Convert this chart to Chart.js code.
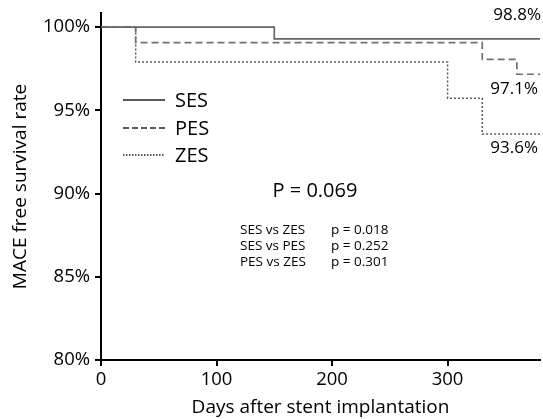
<!DOCTYPE html>
<html>
<head>
<meta charset="utf-8">
<script src="https://cdn.jsdelivr.net/npm/chart.js@4.4.1/dist/chart.umd.min.js"></script>
<style>
  html, body { margin: 0; padding: 0; background: #fff; }
  #wrap { width: 543px; height: 419px; }
</style>
</head>
<body>
<div id="wrap"><canvas id="kmChart"></canvas></div>
<script>
// Kaplan-Meier steps (days, MACE free %)
const sesDays = [0, 150, 380];
const sesRate = [100, 99.3, 99.3];
const pesDays = [0, 30, 330, 360, 380];
const pesRate = [100, 99.07, 98.06, 97.17, 97.17];
const zesDays = [0, 30, 300, 330, 380];
const zesRate = [100, 97.9, 95.73, 93.58, 93.58];

const yTicks = [80, 85, 90, 95, 100];
const xTicks = [0, 100, 200, 300];

const endLabels = ['98.8%', '97.1%', '93.6%'];
const overallP = 'P = 0.069';
const pairNames = ['SES vs ZES', 'SES vs PES', 'PES vs ZES'];
const pairP = ['p = 0.018', 'p = 0.252', 'p = 0.301'];

const FONT = "'Open Sans', 'Noto Sans', sans-serif";

function toPoints(days, rate) {
  return days.map((d, i) => ({ x: d, y: rate[i] }));
}

// legend + text annotations
const textPlugin = {
  id: 'kmText',
  afterDraw(chart) {
    const ctx = chart.ctx;
    ctx.save();
    ctx.fillStyle = '#000';
    ctx.textBaseline = 'middle';

    // legend
    const styles = [[], [6, 3], [1.5, 1.5]];
    const names = ['SES', 'PES', 'ZES'];
    const legY = [100, 128, 155];
    names.forEach((n, i) => {
      ctx.beginPath();
      ctx.strokeStyle = '#222';
      ctx.lineWidth = 1.3;
      ctx.setLineDash(styles[i]);
      ctx.moveTo(123, legY[i]);
      ctx.lineTo(165, legY[i]);
      ctx.stroke();
      ctx.setLineDash([]);
      ctx.font = '20px ' + FONT;
      ctx.textAlign = 'left';
      ctx.fillText(n, 175, legY[i] + 1);
    });

    // end labels
    ctx.font = '17px ' + FONT;
    ctx.textAlign = 'right';
    ctx.fillText(endLabels[0], 541, 15);
    ctx.fillText(endLabels[1], 538, 89);
    ctx.fillText(endLabels[2], 538, 148);

    // p values
    ctx.font = '20px ' + FONT;
    ctx.textAlign = 'center';
    ctx.fillText(overallP, 315, 191);

    ctx.font = '13.5px ' + FONT;
    ctx.textAlign = 'left';
    pairNames.forEach((n, i) => {
      const y = 230 + i * 16;
      ctx.fillText(n, 240, y);
      ctx.fillText(pairP[i], 331, y);
    });
    ctx.restore();
  }
};

new Chart(document.getElementById('kmChart'), {
  type: 'line',
  data: {
    datasets: [
      {
        label: 'SES',
        data: toPoints(sesDays, sesRate),
        borderColor: '#666',
        borderWidth: 1.7,
        stepped: true,
        pointRadius: 0,
        fill: false
      },
      {
        label: 'PES',
        data: toPoints(pesDays, pesRate),
        borderColor: '#707070',
        borderWidth: 1.7,
        borderDash: [7, 4],
        stepped: true,
        pointRadius: 0,
        fill: false
      },
      {
        label: 'ZES',
        data: toPoints(zesDays, zesRate),
        borderColor: '#5a5a5a',
        borderWidth: 1.5,
        borderDash: [2, 2],
        stepped: true,
        pointRadius: 0,
        fill: false
      }
    ]
  },
  options: {
    responsive: true,
    maintainAspectRatio: false,
    animation: false,
    layout: { padding: { top: 13, right: 3, left: 0, bottom: 0 } },
    plugins: {
      legend: { display: false },
      tooltip: { enabled: false }
    },
    scales: {
      x: {
        type: 'linear',
        min: 0,
        max: 380,
        afterFit: (s) => { s.height = 59; s.paddingLeft = 0; s.paddingRight = 0; },
        afterBuildTicks: (s) => { s.ticks = xTicks.map(v => ({ value: v })); },
        border: { display: true, color: '#000', width: 2 },
        grid: { display: true, drawOnChartArea: false, drawTicks: true, tickLength: 6, color: '#000', lineWidth: 2 },
        ticks: { color: '#000', padding: 3, font: { family: FONT, size: 18.5 }, maxRotation: 0 },
        title: {
          display: true,
          text: 'Days after stent implantation',
          color: '#000',
          font: { family: FONT, size: 19 },
          padding: { top: 0, bottom: 0 }
        }
      },
      y: {
        type: 'linear',
        min: 80,
        max: 100.85,
        afterFit: (s) => { s.width = 101; s.paddingTop = 0; s.paddingBottom = 0; },
        afterBuildTicks: (s) => { s.ticks = yTicks.map(v => ({ value: v })); },
        border: { display: true, color: '#000', width: 2 },
        grid: { display: true, drawOnChartArea: false, drawTicks: true, tickLength: 6, color: '#000', lineWidth: 2 },
        ticks: {
          color: '#000',
          padding: 5,
          font: { family: FONT, size: 18.5 },
          callback: (v) => v + '%'
        },
        title: {
          display: true,
          text: 'MACE free survival rate',
          color: '#000',
          font: { family: FONT, size: 19 },
          padding: { top: 9, bottom: 0 }
        }
      }
    }
  },
  plugins: [textPlugin]
});
</script>
</body>
</html>
